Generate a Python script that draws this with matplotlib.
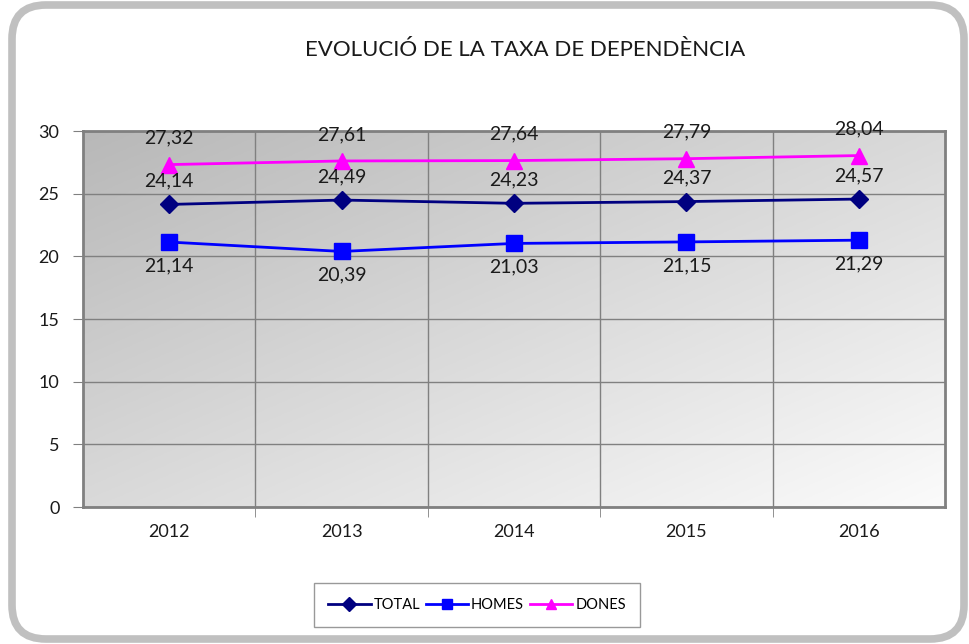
import matplotlib
matplotlib.use("Agg")
import matplotlib.pyplot as plt
import numpy as np
from matplotlib.patches import FancyBboxPatch
from matplotlib.colors import LinearSegmentedColormap

plt.rcParams['font.family'] = ['Lato', 'DejaVu Sans']

years = ["2012", "2013", "2014", "2015", "2016"]
total = [24.14, 24.49, 24.23, 24.37, 24.57]
homes = [21.14, 20.39, 21.03, 21.15, 21.29]
dones = [27.32, 27.61, 27.64, 27.79, 28.04]

fig = plt.figure(figsize=(9.69, 6.44), dpi=100)
ax = fig.add_axes([83 / 969, 1 - 507 / 644, 862 / 969, 376 / 644])

# outer rounded frame
frame = FancyBboxPatch((12 / 969, 5 / 644), 952 / 969, 634 / 644,
                       boxstyle="round,pad=0,rounding_size=0.035",
                       transform=fig.transFigure, facecolor="white",
                       edgecolor="#c0c0c0", linewidth=5.5, zorder=-10,
                       mutation_aspect=969 / 644)
fig.patches.append(frame)

# gradient background of plot area (dark top-left -> light bottom-right)
gx, gy = np.meshgrid(np.linspace(0, 1, 300), np.linspace(0, 1, 300))
grad = (gx + gy) / 2
cmap = LinearSegmentedColormap.from_list("bg", ["#b8b8b8", "#fbfbfb"])
ax.imshow(grad, cmap=cmap, extent=[0, 1, 0, 1], transform=ax.transAxes,
          aspect="auto", zorder=0, origin="upper")

x = np.arange(len(years))
ax.plot(x, total, color="#000080", lw=2, marker="D", ms=9.5, label="TOTAL", zorder=4)
ax.plot(x, homes, color="#0000ff", lw=2, marker="s", ms=11, label="HOMES", zorder=4)
ax.plot(x, dones, color="#ff00ff", lw=2, marker="^", ms=11, label="DONES", zorder=4)

fmt = lambda v: f"{v:.2f}".replace(".", ",")
for xi, v in zip(x, total):
    ax.annotate(fmt(v), (xi, v), xytext=(0, 17), textcoords="offset points",
                ha="center", va="center", fontsize=14, color="#1a1a1a", zorder=5)
for xi, v in zip(x, homes):
    ax.annotate(fmt(v), (xi, v), xytext=(0, -17), textcoords="offset points",
                ha="center", va="center", fontsize=14, color="#1a1a1a", zorder=5)
for xi, v in zip(x, dones):
    ax.annotate(fmt(v), (xi, v), xytext=(0, 19), textcoords="offset points",
                ha="center", va="center", fontsize=14, color="#1a1a1a", zorder=5)

ax.set_xlim(-0.5, len(years) - 0.5)
ax.set_ylim(0, 30)
ax.set_yticks(range(0, 31, 5))
ax.set_xticks(x)
ax.set_xticklabels(years)
ax.set_xticks(np.arange(0.5, len(years) - 0.5), minor=True)
ax.tick_params(axis="x", which="major", length=0, pad=12, labelsize=13, labelcolor="#1a1a1a")
ax.tick_params(axis="x", which="minor", length=7, color="#808080")
ax.tick_params(axis="y", length=7, color="#808080", pad=10, labelsize=13, labelcolor="#1a1a1a")
ax.grid(True, axis="y", color="#808080", lw=1, zorder=1)
ax.grid(True, axis="x", which="minor", color="#808080", lw=1, zorder=1)
ax.set_axisbelow(False)
for sp in ax.spines.values():
    sp.set_color("#808080")
    sp.set_linewidth(2)
    sp.set_zorder(3)

fig.text(525 / 969, 1 - 50 / 644, "EVOLUCIÓ DE LA TAXA DE DEPENDÈNCIA",
         ha="center", va="center", fontsize=16, color="#1a1a1a")

leg = ax.legend(loc="center", bbox_to_anchor=(477 / 969, 1 - 605 / 644),
                bbox_transform=fig.transFigure, ncol=3, fontsize=10.5,
                frameon=True, fancybox=False, edgecolor="#808080",
                handlelength=2.9, columnspacing=0.4, handletextpad=0.2,
                borderpad=1.0, borderaxespad=0, markerscale=0.7)
leg.get_frame().set_linewidth(1)

fig.savefig("out.png", dpi=100)
